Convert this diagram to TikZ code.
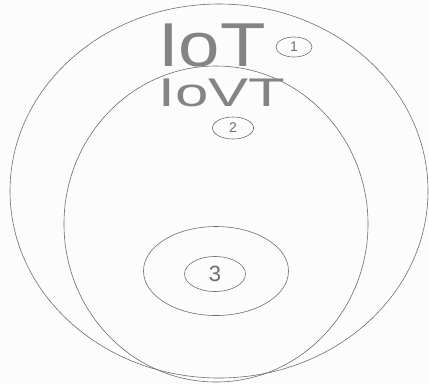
\documentclass[tikz,border=0pt]{standalone}
\usepackage{fontspec}
\setmainfont{Liberation Sans}
\usetikzlibrary{shapes.geometric}
\definecolor{pencil}{HTML}{6E6E6E}
\definecolor{paper}{HTML}{FCFCFC}
\tikzset{
  ring/.style  = {ellipse,draw=pencil,line width=0.6pt,inner sep=0pt},
  num/.style   = {ring,font=\fontsize{14}{14}\selectfont,text=pencil},
  title/.style = {text=pencil!85,inner sep=0pt},
}
\begin{document}
\begin{tikzpicture}[x=1pt,y=-1pt]
  \fill[paper] (0,0) rectangle (429,384);
  \useasboundingbox (0,0) rectangle (429,384);

  % nested sets
  \node[ring,minimum width=418pt,minimum height=374pt] (iot)  at (219,191) {};
  \node[ring,minimum width=304pt,minimum height=316pt] (iovt) at (216,224) {};
  \node[ring,minimum width=145pt,minimum height=89pt]  (core) at (216,271) {};

  % labels
  \node[title,font=\fontsize{62}{62}\selectfont,xscale=1.2] (lbliot)  at (212,45) {IoT};
  \node[title,font=\fontsize{40}{40}\selectfont,xscale=1.5] (lbliovt) at (222,93) {IoVT};

  % circled numbers
  \node[num,minimum width=36pt,minimum height=20pt] (n1) at (294,47)  {1};
  \node[num,minimum width=41pt,minimum height=22pt] (n2) at (233,128) {2};
  \node[num,minimum width=61pt,minimum height=35pt,font=\fontsize{22}{22}\selectfont] (n3) at (215,274) {3};
\end{tikzpicture}
\end{document}
